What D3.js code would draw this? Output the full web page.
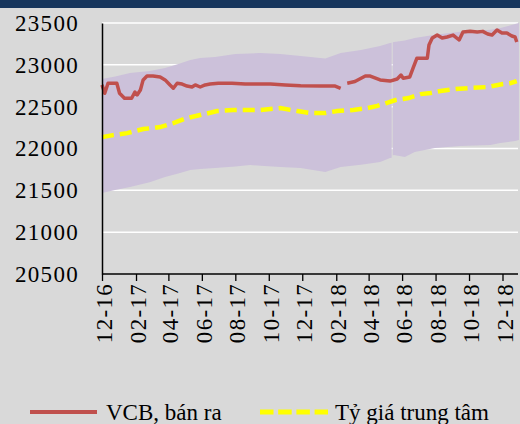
<!DOCTYPE html>
<html>
<head>
<meta charset="utf-8">
<script src="https://cdn.jsdelivr.net/npm/d3@7"></script>
<style>
  body { margin: 0; background: #d9d9d9; }
  svg { display: block; }
  text { font-family: "Liberation Serif", "Times New Roman", serif; fill: #000; }
</style>
</head>
<body>
<svg></svg>
<script>
// VCB sell rate
const vcbDates = ["2016-12-01","2016-12-06","2016-12-12","2016-12-28","2017-01-02","2017-01-11","2017-01-24","2017-01-30","2017-02-03","2017-02-09","2017-02-14","2017-02-21","2017-03-04","2017-03-17","2017-03-26","2017-04-04","2017-04-10","2017-04-17","2017-04-26","2017-05-05","2017-05-14","2017-05-20","2017-05-29","2017-06-07","2017-06-16","2017-07-01","2017-07-13","2017-07-26","2017-08-19","2017-10-04","2017-10-31","2017-11-28","2018-01-03","2018-01-30","2018-02-09","2018-02-15","2018-02-21","2018-03-07","2018-03-26","2018-04-04","2018-04-22","2018-05-10","2018-05-23","2018-05-30","2018-06-03","2018-06-15","2018-06-21","2018-06-28","2018-07-17","2018-07-20","2018-07-26","2018-08-04","2018-08-13","2018-08-22","2018-09-02","2018-09-13","2018-09-20","2018-10-03","2018-10-16","2018-10-26","2018-11-04","2018-11-12","2018-11-21","2018-11-30","2018-12-09","2018-12-18","2018-12-24","2018-12-27"];
const vcbSell = [22760,22660,22780,22780,22660,22600,22600,22675,22640,22700,22820,22866,22866,22855,22820,22758,22720,22780,22770,22746,22735,22760,22735,22760,22770,22780,22780,22780,22770,22770,22760,22750,22746,22746,22720,null,22780,22800,22866,22866,22820,22806,22830,22878,22840,22855,22960,23080,23080,23237,23320,23356,23320,23333,23356,23297,23392,23400,23392,23400,23368,23356,23416,23380,23380,23345,23333,23273];

// central rate
const centralDates = ["2016-12-01","2016-12-21","2017-01-16","2017-02-14","2017-03-17","2017-04-10","2017-05-05","2017-05-29","2017-06-29","2017-07-28","2017-09-03","2017-09-16","2017-10-22","2017-11-22","2017-12-16","2018-01-12","2018-02-03","2018-03-04","2018-03-30","2018-04-17","2018-05-02","2018-05-20","2018-06-13","2018-07-05","2018-07-23","2018-08-10","2018-09-07","2018-10-03","2018-11-04","2018-12-02","2018-12-15","2018-12-27"];
const centralRate = [22136,22160,22184,22232,22256,22304,22364,22400,22447,22460,22460,22460,22483,22448,22424,22424,22448,22460,22483,22510,22540,22579,22603,22650,22663,22687,22711,22723,22735,22770,22780,22806];

// trading band (ceiling / floor)
const bandDates = ["2016-12-01","2016-12-25","2017-01-21","2017-02-26","2017-03-26","2017-04-19","2017-05-11","2017-05-29","2017-06-25","2017-08-01","2017-08-28","2017-09-16","2017-10-22","2017-11-28","2018-01-12","2018-02-09","2018-03-18","2018-04-22","2018-05-10","2018-05-13","2018-05-14","2018-05-15","2018-05-17","2018-06-06","2018-06-24","2018-07-31","2018-09-15","2018-11-09","2018-11-27","2018-12-24","2018-12-31"];
const bandUpper = [22830,22860,22902,22926,22962,23010,23058,23081,23093,23129,23135,23141,23129,23105,23075,23141,23177,23225,23261,23265,null,23270,23273,23290,23320,23360,23395,23420,23440,23488,23500];
const bandLower = [21467,21503,21539,21598,21660,21700,21742,21755,21768,21785,21802,21795,21778,21766,21718,21778,21805,21838,21886,21890,null,21915,21921,21897,21957,22005,22029,22041,22065,22090,22101];

const yTicks = [20500,21000,21500,22000,22500,23000,23500];
const xTickDates = ["2016-12-01","2017-02-01","2017-04-01","2017-06-01","2017-08-01","2017-10-01","2017-12-01","2018-02-01","2018-04-01","2018-06-01","2018-08-01","2018-10-01","2018-12-01"];
const seriesNames = ["VCB, bán ra", "Tỷ giá trung tâm"];

const W = 520, H = 424;
const parse = d3.timeParse("%Y-%m-%d");

const svg = d3.select("svg").attr("width", W).attr("height", H);

svg.append("rect").attr("width", W).attr("height", H).attr("fill", "#d9d9d9");
svg.append("rect").attr("width", W).attr("height", 8).attr("fill", "#17365d");

const x = d3.scaleTime()
    .domain([parse("2016-12-01"), parse("2019-01-01")])
    .range([102, 519.5]);
const y = d3.scaleLinear()
    .domain([20500, 23500])
    .range([274, 23]);

// gridlines
svg.append("g")
    .selectAll("line")
    .data(yTicks.filter(d => d > 20500))
    .join("line")
    .attr("x1", 102).attr("x2", 518)
    .attr("y1", d => y(d)).attr("y2", d => y(d))
    .attr("stroke", "#fff").attr("stroke-width", 1.5);

// band
const band = bandDates.map((d, i) => ({ date: parse(d), hi: bandUpper[i], lo: bandLower[i] }));
svg.append("path")
    .datum(band)
    .attr("fill", "#ccc1da")
    .attr("d", d3.area()
        .defined(d => d.hi != null)
        .x(d => x(d.date))
        .y0(d => y(d.lo))
        .y1(d => y(d.hi)));

// central rate
const central = centralDates.map((d, i) => ({ date: parse(d), v: centralRate[i] }));
svg.append("path")
    .datum(central)
    .attr("fill", "none")
    .attr("stroke", "#ffff00")
    .attr("stroke-width", 4.5)
    .attr("stroke-dasharray", "12,6")
    .attr("d", d3.line().x(d => x(d.date)).y(d => y(d.v)));

// VCB
const vcb = vcbDates.map((d, i) => ({ date: parse(d), v: vcbSell[i] }));
svg.append("path")
    .datum(vcb)
    .attr("fill", "none")
    .attr("stroke", "#c0504d")
    .attr("stroke-width", 3.5)
    .attr("stroke-linejoin", "round")
    .attr("d", d3.line().defined(d => d.v != null).x(d => x(d.date)).y(d => y(d.v)));

// y axis
const yAxis = svg.append("g")
    .attr("transform", "translate(102,0)")
    .call(d3.axisLeft(y).tickValues(yTicks).tickSize(0).tickSizeOuter(0).tickPadding(23).tickFormat(d3.format("d")));
yAxis.select(".domain").attr("stroke", "#000").attr("stroke-width", 1.5);
yAxis.selectAll("text")
    .style("font-size", "23px")
    .style("letter-spacing", "1.3px")
    .style("font-family", "'Liberation Serif', serif")
    .attr("fill", "#000");

// x axis
const xAxis = svg.append("g")
    .attr("transform", "translate(0,274)")
    .call(d3.axisBottom(x)
        .tickValues(xTickDates.map(parse))
        .tickSize(7).tickSizeOuter(0)
        .tickFormat(d3.timeFormat("%m-%y")));
xAxis.select(".domain").attr("stroke", "#000").attr("stroke-width", 1.5).attr("d", "M102,0H518");
xAxis.selectAll(".tick line").attr("stroke", "#000").attr("stroke-width", 1.3);
xAxis.selectAll("text")
    .style("font-size", "23px")
    .style("letter-spacing", "1.3px")
    .style("font-family", "'Liberation Serif', serif")
    .attr("fill", "#000")
    .attr("text-anchor", "end")
    .attr("transform", "rotate(-90)")
    .attr("x", -9).attr("y", 1.5).attr("dy", "0.35em");

// legend
const lg = svg.append("g").attr("transform", "translate(0,412)");
lg.append("line").attr("x1", 30).attr("x2", 97).attr("stroke", "#c0504d").attr("stroke-width", 4);
lg.append("text").attr("x", 106).attr("dy", "0.33em").style("font-size", "23px").text(seriesNames[0]);
lg.append("line").attr("x1", 260).attr("x2", 328).attr("stroke", "#ffff00").attr("stroke-width", 5)
    .attr("stroke-dasharray", "13.5,4.7");
lg.append("text").attr("x", 335).attr("dy", "0.33em").style("font-size", "23px").text(seriesNames[1]);
</script>
</body>
</html>
